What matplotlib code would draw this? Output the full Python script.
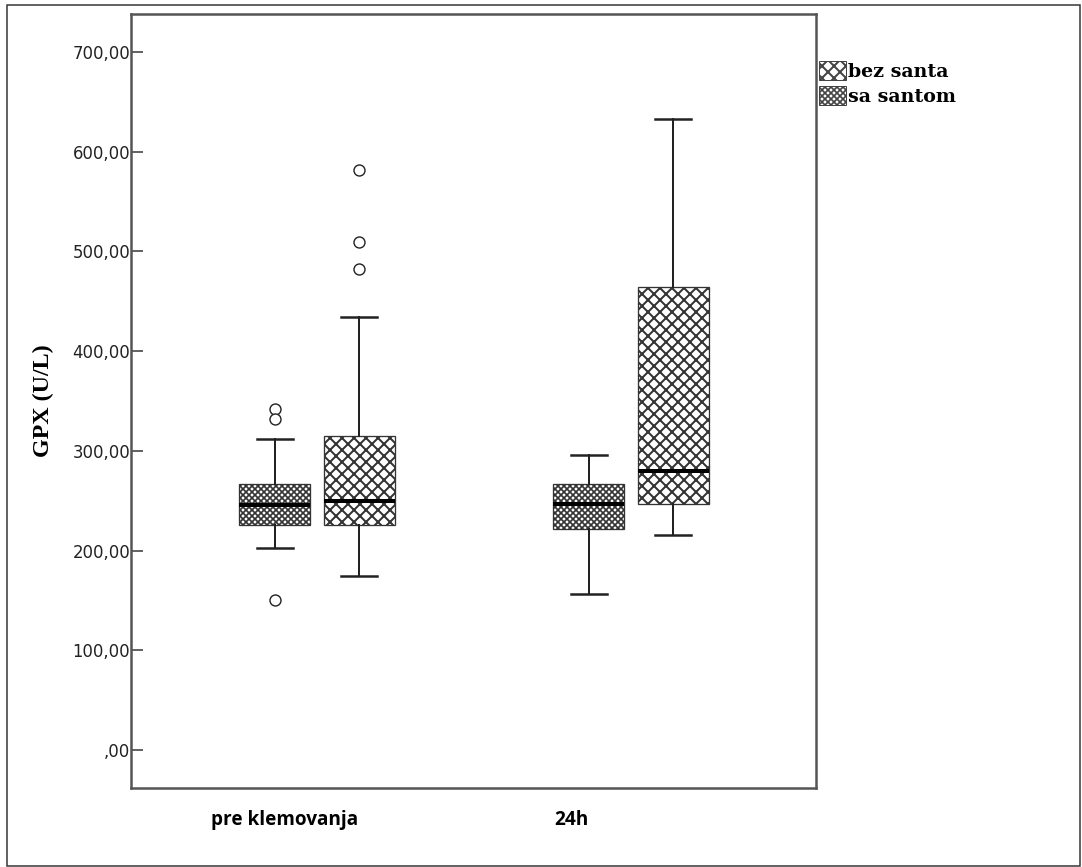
import numpy as np
import matplotlib
matplotlib.use('Agg')
import matplotlib.pyplot as plt
from matplotlib.patches import Patch, Rectangle

# box statistics (GPX, U/L)
groups = ['pre klemovanja', '24h']
series = ['bez santa', 'sa santom']

# fine pattern box (left in each group)
sa_med = [246, 247]
sa_q1 = [226, 222]
sa_q3 = [267, 267]
sa_lo = [203, 156]
sa_hi = [312, 296]
sa_fliers = [[342, 332, 150], []]

# coarse pattern box (right in each group)
bez_med = [250, 280]
bez_q1 = [226, 247]
bez_q3 = [315, 464]
bez_lo = [175, 216]
bez_hi = [434, 633]
bez_fliers = [[582, 509, 482], []]

yticks = [0, 100, 200, 300, 400, 500, 600, 700]
ytick_labels = [',00', '100,00', '200,00', '300,00', '400,00', '500,00', '600,00', '700,00']

plt.rcParams['hatch.linewidth'] = 2.0
plt.rcParams['hatch.color'] = 'black'

fig = plt.figure(figsize=(1082 / 72, 867 / 72), dpi=72)
ax = fig.add_axes([131 / 1082, 79 / 867, 685 / 1082, 774 / 867])

def stats(med, q1, q3, lo, hi, fl):
    return [dict(med=med[i], q1=q1[i], q3=q3[i], whislo=lo[i], whishi=hi[i], fliers=fl[i])
            for i in range(len(med))]

pos = np.arange(1, len(groups) + 1)
off = 0.134
w = 0.226

common = dict(widths=w, patch_artist=True, showfliers=True,
              boxprops=dict(facecolor='white', edgecolor='#333333', linewidth=1.3),
              medianprops=dict(color='black', linewidth=4),
              whiskerprops=dict(color='#222222', linewidth=2),
              capprops=dict(color='#222222', linewidth=2.5),
              flierprops=dict(marker='o', markerfacecolor='white', markeredgecolor='#222222',
                              markersize=11, markeredgewidth=1.4))

b1 = ax.bxp(stats(sa_med, sa_q1, sa_q3, sa_lo, sa_hi, sa_fliers), positions=pos - off, **common)
b2 = ax.bxp(stats(bez_med, bez_q1, bez_q3, bez_lo, bez_hi, bez_fliers), positions=pos + off, **common)
for p in b1['boxes']:
    p.set_hatch('xxxx')
    if hasattr(p, 'set_hatch_linewidth'):
        p.set_hatch_linewidth(1.7)
for p in b2['boxes']:
    p.set_hatch('xx')

ax.set_xlim(0.408, 2.589)
ax.set_ylim(-38.1, 738.1)

ax.set_yticks(yticks)
ax.set_yticklabels(ytick_labels, fontsize=16.5, color='#222222', family='DejaVu Sans')
ax.tick_params(axis='y', direction='in', length=12, width=1.5, color='#333333', pad=1)

# group labels sit a bit left of the group centres in the original
ax.set_xticks([0.898, 1.809])
ax.set_xticklabels(groups, fontsize=19, fontweight='bold', family='Open Sans')
ax.tick_params(axis='x', length=0, pad=22)

for s in ax.spines.values():
    s.set_color('#555555')
    s.set_linewidth(2.5)

ax.set_ylabel('GPX (U/L)', fontsize=24, fontweight='bold', family='Liberation Serif', labelpad=18)

handles = [Patch(facecolor='white', edgecolor='#444444', hatch='xx', label=series[0]),
           Patch(facecolor='white', edgecolor='#444444', hatch='xxxx', label=series[1])]
leg = fig.legend(handles=handles, loc='upper left', bbox_to_anchor=(819 / 1082, 1 - 61 / 867),
                 frameon=False, prop=dict(family='DejaVu Serif', weight='bold', size=19),
                 handlelength=1.4, handleheight=1.15, handletextpad=0.1, labelspacing=0.28,
                 borderpad=0, borderaxespad=0)
if hasattr(leg.get_patches()[1], 'set_hatch_linewidth'):
    leg.get_patches()[1].set_hatch_linewidth(1.7)

# outer frame round the whole picture
fig.patches.append(Rectangle((7 / 1082, 1 / 867), 1073 / 1082, 861 / 867, transform=fig.transFigure,
                             fill=False, edgecolor='#333333', linewidth=1.5))

fig.savefig('out.png', dpi=72)
